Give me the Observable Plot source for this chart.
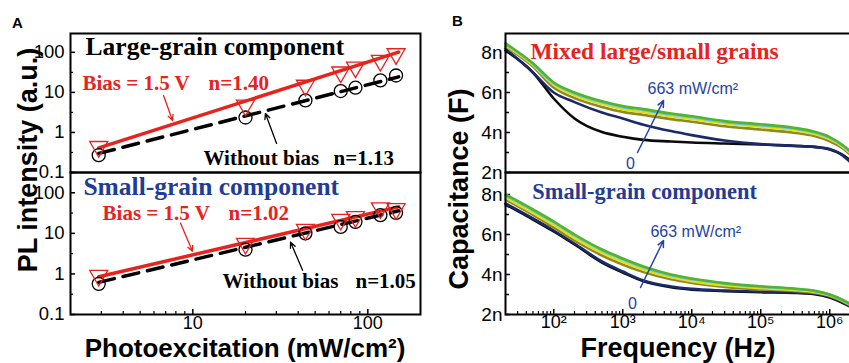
<!DOCTYPE html>
<html><head><meta charset="utf-8">
<script src="https://cdn.jsdelivr.net/npm/d3@7"></script>
<script src="https://cdn.jsdelivr.net/npm/@observablehq/plot@0.6"></script>
<style>
html,body{margin:0;padding:0;background:#fff;overflow:hidden;}
#fig{position:relative;width:849px;height:363px;overflow:hidden;background:#fff;font-family:"Liberation Sans",Arial,Helvetica,sans-serif;}
.title{position:absolute;font-weight:bold;white-space:nowrap;line-height:1;color:#000;}
</style></head><body><div id="fig"></div>
<script>
// ---------- Panel A data (PL intensity vs photoexcitation) ----------
const excitation   = [2.9, 20, 44, 70, 85, 118, 145];          // mW/cm2
const largeBias    = [0.44, 4.75, 14.9, 31.9, 42.4, 62, 91];
const largeNoBias  = [0.27, 2.36, 6.3, 10.8, 13.1, 19.9, 26.4];
const smallBias    = [0.91, 5.6, 12.4, 21.9, 25.5, 42, 40];
const smallNoBias  = [0.57, 3.97, 10, 14.4, 19.2, 28, 32];
const fitX           = [2.9, 150];
const fitLargeBias   = [0.41, 101];
const fitLargeNoBias = [0.30, 24.4];
const fitSmallBias   = [0.85, 45];
const fitSmallNoBias = [0.62, 36];
const yTicksA = [0.1, 1, 10, 100];
const yTickLabelsA = ["0.1", "1", "10", "100"];
const yMinorA = [0.316, 3.16, 31.6];
const xTicksA = [10, 100];
const xTickLabelsA = ["10", "100"];
const xMinorA = [3, 4, 5, 6, 7, 8, 9, 20, 30, 40, 50, 60, 70, 80, 90];

// ---------- Panel B data (capacitance vs frequency), nF ----------
const freqB = [20, 50, 100, 200, 500, 1e3, 2e3, 5e3, 1e4, 3e4, 1e5, 3e5, 6e5, 1e6, 1.5e6, 2e6];
const mixed0    = [8.1, 7.0, 5.7, 4.7, 4.02, 3.79, 3.63, 3.55, 3.5, 3.45, 3.4, 3.33, 3.28, 3.15, 2.9, 2.6];
const mixedNavy = [8.2, 7.0, 6.0, 5.52, 5.0, 4.7, 4.39, 4.07, 3.87, 3.6, 3.42, 3.34, 3.28, 3.17, 2.88, 2.5];
const mixedOlive= [8.3, 7.3, 6.25, 5.72, 5.28, 5.03, 4.88, 4.67, 4.54, 4.31, 4.15, 3.99, 3.82, 3.56, 3.24, 2.88];
const mixedYel  = [8.36, 7.38, 6.38, 5.86, 5.42, 5.17, 5.02, 4.81, 4.68, 4.45, 4.29, 4.12, 3.93, 3.67, 3.32, 2.96];
const mixedCyan = [8.42, 7.43, 6.46, 5.95, 5.51, 5.27, 5.12, 4.9, 4.76, 4.52, 4.36, 4.2, 4.0, 3.73, 3.37, 3.02];
const mixedGreen= [8.46, 7.46, 6.5, 6.0, 5.56, 5.32, 5.17, 4.95, 4.81, 4.57, 4.41, 4.24, 4.04, 3.77, 3.4, 3.05];
const small0    = [7.5, 6.75, 6.15, 5.5, 4.6, 4.1, 3.66, 3.36, 3.24, 3.17, 3.11, 3.08, 3.02, 2.85, 2.6, 2.38];
const smallNavy = [7.55, 6.8, 6.2, 5.55, 4.65, 4.15, 3.7, 3.4, 3.28, 3.2, 3.14, 3.1, 3.05, 2.87, 2.62, 2.4];
const smallOlive= [7.75, 6.98, 6.35, 5.7, 4.95, 4.5, 4.12, 3.76, 3.58, 3.38, 3.25, 3.18, 3.08, 2.92, 2.68, 2.45];
const smallYel  = [7.85, 7.08, 6.48, 5.82, 5.08, 4.62, 4.24, 3.86, 3.67, 3.46, 3.32, 3.23, 3.13, 2.96, 2.71, 2.48];
const smallCyan = [7.95, 7.2, 6.6, 5.95, 5.2, 4.75, 4.35, 3.95, 3.76, 3.54, 3.38, 3.28, 3.17, 2.99, 2.74, 2.5];
const smallGreen= [8.0, 7.25, 6.65, 6.0, 5.25, 4.8, 4.4, 4.0, 3.8, 3.57, 3.41, 3.3, 3.19, 3.0, 2.75, 2.52];
const curveColors = ["#0a0a0a", "#1a2a6b", "#8f8a1e", "#e6de1c", "#6cc5e8", "#4fb52e"];
const yTicksB = [2, 4, 6, 8];
const yTickLabelsB = ["2n", "4n", "6n", "8n"];
const yMinorB = [3, 5, 7];
const xTicksB = [1e2, 1e3, 1e4, 1e5, 1e6];
const xTickLabelsB = ["10\u00B2", "10\u00B3", "10\u2074", "10\u2075", "10\u2076"];
const minorMantissa = [2, 3, 4, 5, 6, 7, 8, 9];

// ---------- helpers ----------
const fig = document.getElementById("fig");
const FONT = '"Liberation Sans", Arial, Helvetica, sans-serif';
const SERIF = '"Liberation Serif", "Times New Roman", Times, serif';
const RED = "#e8221c", BLUE = "#1f3c96", ABLUE = "#2443a6";
const styleObj = {background: "transparent", overflow: "visible", fontFamily: FONT, color: "#000", maxWidth: "none"};
function place(svg, left, top) {
  svg.style.position = "absolute"; svg.style.left = left + "px"; svg.style.top = top + "px";
  fig.appendChild(svg);
}
const pts = (xs, ys) => xs.map((x, i) => ({x, y: ys[i]}));
const lbl = (vals, labels) => d => labels[vals.indexOf(d)];
const xMinorB = [];
[10, 100, 1e3, 1e4, 1e5, 1e6].forEach(dec => minorMantissa.forEach(m => { const v = m * dec; if (v > 20 && v < 2e6) xMinorB.push(v); }));

function serifText(x, y, t, fill, size) {
  return Plot.text([{x, y, t}], {x: "x", y: "y", text: "t", fill, fontSize: size, fontWeight: "bold",
    fontFamily: SERIF, textAnchor: "start", lineAnchor: "bottom"});
}
function sansText(x, y, t, anchor, line) {
  return Plot.text([{x, y, t}], {x: "x", y: "y", text: "t", fill: ABLUE, fontSize: 16,
    fontFamily: FONT, textAnchor: anchor, lineAnchor: line});
}
function arrow(x1, y1, x2, y2, color, w) {
  return Plot.arrow([{x1, y1, x2, y2}], {x1: "x1", y1: "y1", x2: "x2", y2: "y2", stroke: color,
    strokeWidth: w, headLength: 7, headAngle: 50});
}

// ---------- Panel A ----------
function panelA(top, height, mt, mb, yMax, bias, noBias, fitB, fitN, texts, showX) {
  const innerH = height - mt - mb;
  const marks = [
    Plot.axisY(yTicksA, {anchor: "left", tickSize: 0, tickPadding: 6, fontSize: 18.5, tickFormat: lbl(yTicksA, yTickLabelsA), label: null}),
    Plot.tickY(yTicksA, {y: d => d, insetRight: 345, strokeWidth: 1.5}),
    Plot.tickY(yMinorA, {y: d => d, insetRight: 347, strokeWidth: 1.2}),
    Plot.line(pts(fitX, fitN), {x: "x", y: "y", stroke: "#000", strokeWidth: 3.5, strokeDasharray: "16,9"}),
    Plot.line(pts(fitX, fitB), {x: "x", y: "y", stroke: RED, strokeWidth: 3.5}),
    Plot.dot(pts(excitation, noBias), {x: "x", y: "y", r: 6.5, stroke: "#000", strokeWidth: 1.3, fill: "none"}),
    Plot.dot(pts(excitation, bias), {x: "x", y: "y", symbol: "triangle", r: 6.7, rotate: 180, stroke: RED, strokeWidth: 1.3, fill: "none"}),
    ...texts,
    Plot.frame({strokeWidth: 2})
  ];
  if (showX) {
    marks.push(
      Plot.axisX(xTicksA, {anchor: "bottom", tickSize: 0, tickPadding: 2, fontSize: 18, tickFormat: lbl(xTicksA, xTickLabelsA), label: null}),
      Plot.tickX(xTicksA, {x: d => d, insetTop: innerH - 5, strokeWidth: 1.5}),
      Plot.tickX(xMinorA, {x: d => d, insetTop: innerH - 3, strokeWidth: 1.2})
    );
  }
  place(Plot.plot({
    width: 430, height, marginLeft: 70, marginRight: 10, marginTop: mt, marginBottom: mb,
    style: styleObj,
    x: {type: "log", domain: [2, 200], axis: null},
    y: {type: "log", domain: [0.1, yMax], axis: null},
    marks
  }), 0, top);
}

panelA(0, 172, 33, 0, 295, largeBias, largeNoBias, fitLargeBias, fitLargeNoBias, [
  serifText(2.44, 85, "Large-grain component", "#000", 25.5),
  serifText(2.34, 11.8, "Bias = 1.5 V", RED, 21),
  serifText(12.3, 11.8, "n=1.40", RED, 21),
  serifText(11.5, 0.158, "Without bias", "#000", 21),
  serifText(63.7, 0.158, "n=1.13", "#000", 21),
  arrow(6.8, 8.36, 7.66, 1.99, RED, 1.3),
  arrow(30.1, 0.53, 26, 2.97, "#000", 1.3)
], false);

panelA(172, 191, 0, 49, 316, smallBias, smallNoBias, fitSmallBias, fitSmallNoBias, [
  serifText(2.37, 88.3, "Small-grain component", BLUE, 25.5),
  serifText(3.05, 21.2, "Bias = 1.5 V", RED, 21),
  serifText(16, 21.2, "n=1.02", RED, 21),
  serifText(14.8, 0.44, "Without bias", "#000", 21),
  serifText(85, 0.44, "n=1.05", "#000", 21),
  arrow(8.5, 17.9, 9.95, 3.6, RED, 1.3),
  arrow(42.4, 1.23, 36.2, 6.05, "#000", 1.3)
], true);

// ---------- Panel B ----------
function panelB(top, height, mt, mb, yMax, series, texts, showX) {
  const innerH = height - mt - mb;
  const marks = [
    Plot.axisY(yTicksB, {anchor: "left", tickSize: 0, tickPadding: 3, fontSize: 19, tickFormat: lbl(yTicksB, yTickLabelsB), label: null}),
    Plot.tickY(yTicksB, {y: d => d, insetRight: 340, strokeWidth: 1.5}),
    Plot.tickY(yMinorB, {y: d => d, insetRight: 341, strokeWidth: 1.5}),
    ...series.map((s, k) => Plot.line(pts(freqB, s), {x: "x", y: "y", stroke: curveColors[k], strokeWidth: 2.6, curve: "monotone-x"})),
    ...texts,
    Plot.frame({strokeWidth: 2})
  ];
  if (showX) {
    marks.push(
      Plot.axisX(xTicksB, {anchor: "bottom", tickSize: 0, tickPadding: 1, fontSize: 18, tickFormat: lbl(xTicksB, xTickLabelsB), label: null}),
      Plot.tickX(xTicksB, {x: d => d, insetTop: innerH - 5, strokeWidth: 1.5}),
      Plot.tickX(xMinorB, {x: d => d, insetTop: innerH - 3, strokeWidth: 1.2})
    );
  }
  place(Plot.plot({
    width: 420, height, marginLeft: 75, marginRight: 0, marginTop: mt, marginBottom: mb,
    style: styleObj,
    x: {type: "log", domain: [20, 2e6], axis: null},
    y: {type: "linear", domain: [2, yMax], axis: null},
    marks
  }), 430, top);
}

panelB(0, 172, 33, 0, 8.95, [mixed0, mixedNavy, mixedOlive, mixedYel, mixedCyan, mixedGreen], [
  serifText(46, 7.7, "Mixed large/small grains", RED, 23.4),
  sansText(2285, 5.95, "663 mW/cm\u00B2", "start", "bottom"),
  sansText(1297, 2.45, "0", "middle", "middle"),
  arrow(1637, 3.0, 3900, 5.6, ABLUE, 1.5)
], false);

panelB(172, 191, 0, 49, 9.1, [small0, smallNavy, smallOlive, smallYel, smallCyan, smallGreen], [
  serifText(49, 7.8, "Small-grain component", BLUE, 22.4),
  sansText(2520, 5.9, "663 mW/cm\u00B2", "start", "bottom"),
  sansText(1387, 2.55, "0", "middle", "middle"),
  arrow(1810, 3.35, 3900, 5.7, ABLUE, 1.5)
], true);

// ---------- titles ----------
function title(text, css) {
  const d = document.createElement("div");
  d.className = "title"; d.textContent = text; d.style.cssText += css;
  fig.appendChild(d);
}
title("A", "left:12px;top:15px;font-size:15px;");
title("B", "left:452px;top:13px;font-size:15px;");
title("PL intensity (a.u.)", "left:28px;top:160px;font-size:27px;transform:translate(-50%,-50%) rotate(-90deg);");
title("Capacitance (F)", "left:459px;top:189px;font-size:27px;transform:translate(-50%,-50%) rotate(-90deg);");
title("Photoexcitation (mW/cm\u00B2)", "left:245px;top:335px;font-size:26px;transform:translate(-50%,0);");
title("Frequency (Hz)", "left:678px;top:335px;font-size:27px;transform:translate(-50%,0);");
</script>
</body></html>
